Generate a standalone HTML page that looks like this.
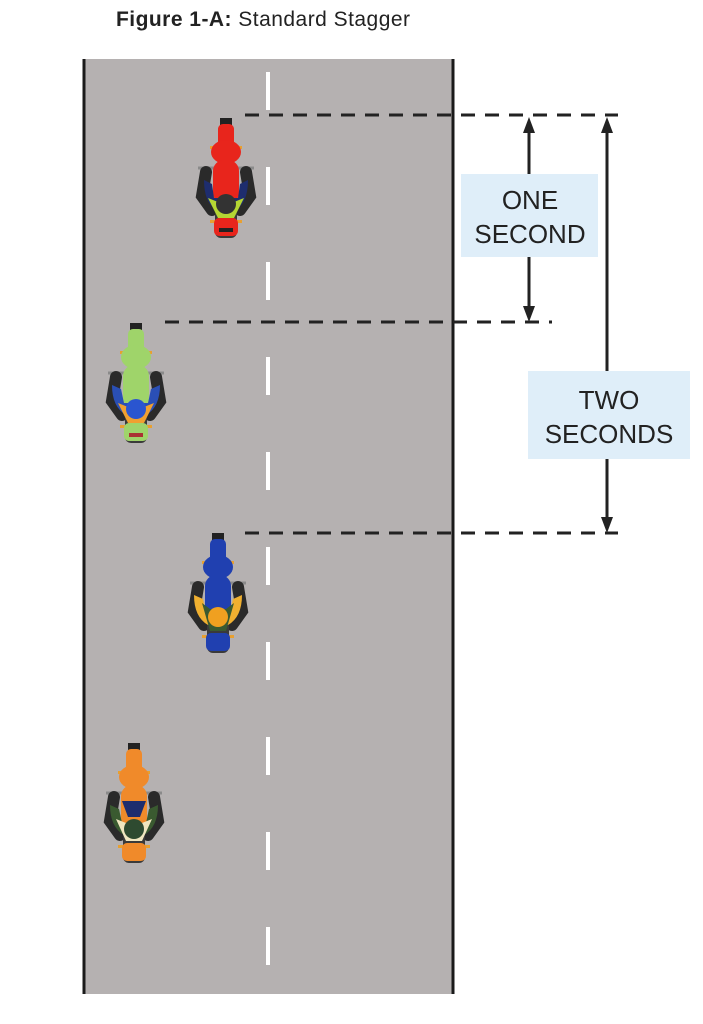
<!DOCTYPE html>
<html><head><meta charset="utf-8"><style>
html,body{margin:0;padding:0;background:#fff;width:703px;height:1024px;overflow:hidden}
svg{display:block}
</style></head><body>
<svg width="703" height="1024" viewBox="0 0 703 1024" xmlns="http://www.w3.org/2000/svg">
<text x="116" y="26" font-family="Liberation Sans, sans-serif" font-size="21" fill="#222" textLength="294"><tspan font-weight="bold">Figure 1-A:</tspan> Standard Stagger</text>
<rect x="83" y="59" width="371" height="935" fill="#b5b1b1"/>
<line x1="84" y1="59" x2="84" y2="994" stroke="#1a1a1a" stroke-width="3"/>
<line x1="453" y1="59" x2="453" y2="994" stroke="#1a1a1a" stroke-width="3"/>
<line x1="268" y1="72" x2="268" y2="990" stroke="#fff" stroke-width="4" stroke-dasharray="38 57"/>
<g stroke="#222" stroke-width="3" stroke-dasharray="14 10">
<line x1="245" y1="115" x2="618" y2="115"/>
<line x1="165" y1="322" x2="552" y2="322"/>
<line x1="245" y1="533" x2="618" y2="533"/>
</g>
<g stroke="#222" stroke-width="3" fill="#222">
<line x1="529" y1="130" x2="529" y2="176"/><line x1="529" y1="256" x2="529" y2="306"/>
<line x1="607" y1="130" x2="607" y2="372"/><line x1="607" y1="458" x2="607" y2="518"/>
<polygon points="529,117 523,133 535,133" stroke="none"/>
<polygon points="529,322 523,306 535,306" stroke="none"/>
<polygon points="607,117 601,133 613,133" stroke="none"/>
<polygon points="607,533 601,517 613,517" stroke="none"/>
</g>
<rect x="461" y="174" width="137" height="83" fill="#dfeef9"/>
<rect x="528" y="371" width="162" height="88" fill="#dfeef9"/>
<g font-family="Liberation Sans, sans-serif" font-size="26" fill="#222" text-anchor="middle">
<text x="530" y="209">ONE</text><text x="530" y="243">SECOND</text>
<text x="609" y="409">TWO</text><text x="609" y="443">SECONDS</text>
</g>
<defs>
<g id="base">
<line x1="-28" y1="50" x2="28" y2="50" stroke="#8a8a8a" stroke-width="3"/>
<path d="M-20,54 L-24,78 L-14,92 M20,54 L24,78 L14,92" stroke="#2a2a2a" stroke-width="12" fill="none" stroke-linecap="round"/>
<rect x="-11" y="88" width="22" height="32" rx="6" fill="#3a3a3a"/>
<rect x="-16" y="28" width="5" height="3" fill="#e8a030"/><rect x="11" y="28" width="5" height="3" fill="#e8a030"/>
<rect x="-16" y="102" width="5" height="3" fill="#e8a030"/><rect x="11" y="102" width="5" height="3" fill="#e8a030"/>
<rect x="-6" y="0" width="12" height="8" fill="#222"/>
</g>
</defs>
<g transform="translate(226,118)">
<use href="#base"/>
<rect x="-8" y="6" width="16" height="24" rx="5" fill="#e8251c"/>
<ellipse cx="0" cy="34" rx="15" ry="12" fill="#e8251c"/>
<rect x="-13" y="42" width="26" height="44" rx="11" fill="#e8251c"/>
<path d="M-22,62 Q-22,84 -10,92 L10,92 Q22,84 22,62 L14,66 L12,80 L-12,80 L-14,66Z" fill="#1e2d6e"/>
<path d="M-18,80 L-8,100 L8,100 L18,80 L8,84 L-8,84Z" fill="#b5d633"/>
<circle cx="0" cy="86" r="10" fill="#333"/>
<rect x="-12" y="100" width="24" height="18" rx="5" fill="#e8251c"/>
<rect x="-7" y="110" width="14" height="4" fill="#222"/>
</g>
<g transform="translate(136,323)">
<use href="#base"/>
<rect x="-8" y="6" width="16" height="24" rx="5" fill="#9fd46a"/>
<ellipse cx="0" cy="34" rx="15" ry="12" fill="#9fd46a"/>
<rect x="-13" y="42" width="26" height="44" rx="11" fill="#9fd46a"/>
<path d="M-24,62 Q-24,84 -10,92 L10,92 Q24,84 24,62 L15,66 L12,80 L-12,80 L-15,66Z" fill="#2a4fb5"/>
<path d="M-18,80 L-8,100 L8,100 L18,80 L8,84 L-8,84Z" fill="#f0a030"/>
<circle cx="0" cy="86" r="10" fill="#2a55d0"/>
<rect x="-12" y="100" width="24" height="18" rx="5" fill="#9fd46a"/>
<rect x="-7" y="110" width="14" height="4" fill="#a33"/>
</g>
<g transform="translate(218,533)">
<use href="#base"/>
<rect x="-8" y="6" width="16" height="24" rx="5" fill="#2040b0"/>
<ellipse cx="0" cy="34" rx="15" ry="12" fill="#2040b0"/>
<rect x="-13" y="42" width="26" height="44" rx="11" fill="#2040b0"/>
<path d="M-24,62 Q-24,84 -10,92 L10,92 Q24,84 24,62 L15,66 L12,80 L-12,80 L-15,66Z" fill="#f0b030"/>
<path d="M-16,70 L-8,98 L8,98 L16,70 L8,76 L-8,76Z" fill="#3a5a30"/>
<circle cx="0" cy="84" r="10" fill="#f0a020"/>
<rect x="-12" y="100" width="24" height="18" rx="5" fill="#2040b0"/>
</g>
<g transform="translate(134,743)">
<use href="#base"/>
<rect x="-8" y="6" width="16" height="24" rx="5" fill="#f08a2a"/>
<ellipse cx="0" cy="34" rx="15" ry="12" fill="#f08a2a"/>
<rect x="-13" y="42" width="26" height="44" rx="11" fill="#f08a2a"/>
<path d="M-24,62 Q-24,84 -10,92 L10,92 Q24,84 24,62 L15,66 L12,80 L-12,80 L-15,66Z" fill="#3a5a30"/>
<path d="M-18,76 L-8,98 L8,98 L18,76 L8,80 L-8,80Z" fill="#f0e6c0"/>
<path d="M-12,58 L-6,74 L6,74 L12,58Z" fill="#1e2d6e"/>
<circle cx="0" cy="86" r="10" fill="#2e4a30"/>
<rect x="-12" y="100" width="24" height="18" rx="5" fill="#f08a2a"/>
</g>
</svg>
</body></html>
